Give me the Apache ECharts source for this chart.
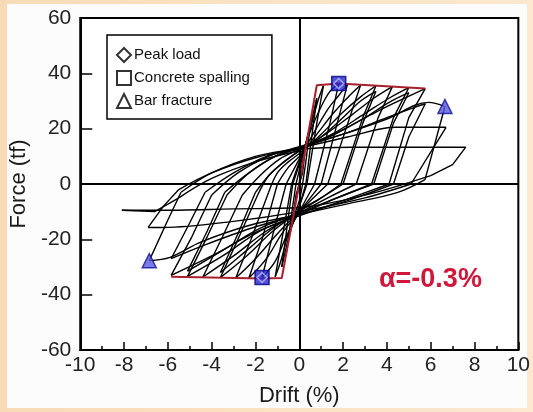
<!DOCTYPE html>
<html><head><meta charset="utf-8">
<script src="https://cdn.jsdelivr.net/npm/echarts@6/dist/echarts.min.js"></script>
<style>html,body{margin:0;padding:0;}#c{width:533px;height:412px;}</style>
</head><body><div id="c"></div>
<script>
// ---- data: drift (%), force (tf) ----
const xTicks = [-10,-8,-6,-4,-2,0,2,4,6,8,10];
const yTicks = [-60,-40,-20,0,20,40,60];
const cyc1 = [[0,0],[0.1,5],[0.25,11],[0.15,4],[0,0],[-0.1,-4],[-0.25,-10],[-0.15,-4],[0,0]];
const cyc2 = [[0,0],[0.2,10],[0.5,21],[0.3,8],[0.15,0],[0,-6],[-0.25,-12],[-0.5,-20],[-0.3,-8],[-0.15,0],[0,5]];
const cyc3 = [[0,5],[0.4,18],[0.8,31],[0.55,16],[0.3,0],[0,-8],[-0.4,-17],[-0.8,-30],[-0.55,-15],[-0.3,0],[0,7]];
const cyc4 = [[0,7],[0.5,20],[0.85,30],[1.1,35.5],[0.8,22],[0.35,0],[0,-8],[-0.5,-18],[-0.85,-28],[-1.1,-33.5],[-0.75,-18],[-0.35,0],[0,8]];
const cyc5 = [[0,8],[0.5,19],[1.0,28],[1.4,33.5],[1.8,36.3],[1.4,22],[0.7,0],[0,-10],[-0.6,-19],[-1.1,-28],[-1.7,-33.8],[-1.2,-18],[-0.6,0],[0,9]];
const cyc6 = [[0,9],[0.7,19],[1.3,27],[1.8,32],[2.2,36],[1.8,24],[1.0,0],[0,-10],[-0.8,-18],[-1.5,-27],[-2.3,-34],[-1.7,-20],[-1.0,0],[-0.5,6],[0,10]];
const cyc7 = [[0,10],[0.8,18],[1.6,26],[2.3,32],[2.8,35.8],[2.3,24],[1.3,0],[0,-10],[-1.0,-18],[-2.0,-27],[-2.9,-34],[-2.2,-20],[-1.4,-3],[-1.0,4],[-0.5,8],[0,11]];
const cyc8 = [[0,11],[1,18],[2,26],[2.8,31.5],[3.5,35.5],[2.9,24],[1.9,0],[1.0,-5],[0,-10],[-1.2,-17],[-2.4,-26],[-3.6,-33.8],[-2.8,-20],[-1.9,-4],[-1.4,3],[-0.7,8],[0,12]];
const cyc8b = [[0,12],[1,17],[2,24],[2.8,30],[3.5,33.5],[2.9,22],[2.0,0],[1.0,-5],[0,-9.5],[-1.2,-16],[-2.4,-24],[-3.6,-32],[-2.8,-18],[-2.0,-3],[-1.4,3],[-0.7,8],[0,12]];
const cyc9 = [[0,12],[1.2,18],[2.4,25],[3.4,31],[4.25,35.2],[3.6,24],[2.6,0],[1.3,-5],[0,-10.5],[-1.5,-17],[-3,-26],[-4.4,-33.6],[-3.5,-19],[-2.6,-4],[-1.8,3],[-0.9,9],[0,12.5]];
const cyc10 = [[0,12.5],[1.5,18],[3,25.5],[4.1,31],[5.0,34.8],[4.3,24],[3.3,0],[1.6,-5.5],[0,-11],[-1.8,-17],[-3.5,-26],[-5.1,-33.4],[-4.2,-19],[-3.3,-4],[-2.3,4],[-1.1,10],[0,13]];
const cyc10b = [[0,13],[1.5,17.5],[3,24],[4.1,29.5],[5.0,33],[4.3,22],[3.4,0],[1.7,-5],[0,-10.5],[-1.8,-16],[-3.5,-24],[-5.1,-31.5],[-4.2,-17],[-3.4,-3],[-2.3,4],[-1.1,10],[0,13]];
const cyc11 = [[0,13],[1.7,18.5],[3.5,26],[4.8,31],[5.75,34.5],[5.0,24],[4.1,0],[2,-6],[0,-11.5],[-2,-17.5],[-4,-26],[-5.85,-33],[-4.9,-19],[-4.0,-4],[-2.8,4],[-1.4,10],[0,13.5]];
const cyc12 = [[0,13.5],[2,18],[4,24],[5.2,27.5],[5.75,29],[5.0,17],[4.3,0],[2.2,-6],[0,-11],[-2.2,-16],[-4.3,-22],[-5.85,-27],[-5.0,-14],[-4.3,-3],[-3,4],[-1.5,10],[0,13]];
const cyc13 = [[0,13],[2,18],[4,23.5],[5.9,29.5],[6.65,28],[5.74,1.6],[4.5,-3],[2.3,-7],[0,-11],[-2.3,-15],[-4.5,-21],[-5.9,-26.5],[-6.85,-27.7],[-6,-13],[-5.4,-3],[-4,4],[-2,10],[0,13]];
const cyc14 = [[0,13],[2.2,17],[4.4,20.5],[6.7,20.5],[5.1,0],[3,-5],[0,-10],[-3,-13.5],[-6.2,-15.7],[-6.9,-15.7],[-6.2,-8],[-5.5,-2],[-4,4],[-2,9.5],[0,12.5]];
const cyc15 = [[0,12.5],[2.4,13.3],[4.8,13.3],[7.6,13.3],[7,7],[6,3],[5,0.5],[3,-4],[0,-8.5],[-3,-9],[-6.6,-9.5],[-8.1,-9.5],[-6.6,-10],[-5.5,-5],[-4,2],[-2,8],[0,12]];
const envelopePos = [[0,0],[0.8,35.7],[1.8,36.3],[5.75,34.5]];
const envelopeNeg = [[0,0],[-0.8,-34],[-1.7,-34.2],[-5.85,-33.5]];
const peakLoad = [[1.8,36.3],[-1.7,-33.8]];
const concreteSpalling = [[1.8,36.3],[-1.7,-33.8]];
const barFracture = [[6.65,28],[-6.85,-27.7]];
const legendNames = ['Peak load','Concrete spalling','Bar fracture'];
const noteText = 'α=-0.3%';
const xName = 'Drift (%)';
const yName = 'Force (tf)';

const cycles = [cyc1,cyc2,cyc3,cyc4,cyc5,cyc6,cyc7,cyc8,cyc8b,cyc9,cyc10,cyc10b,cyc11,cyc12,cyc13,cyc14,cyc15];

// split the recorded path into straight unloading parts and curved reloading parts
const path = [];
[].concat(...cycles).forEach(p => {
  const q = path[path.length-1];
  if (!q || q[0] !== p[0] || q[1] !== p[1]) path.push(p);
});
const ext = [0];
for (let i = 1; i < path.length-1; i++) {
  if ((path[i][0]-path[i-1][0]) * (path[i+1][0]-path[i][0]) < 0) ext.push(i);
}
ext.push(path.length-1);
const straightParts = [], curvedParts = [];
for (let s = 0; s < ext.length-1; s++) {
  const seg = path.slice(ext[s], ext[s+1]+1);
  if (s === 0) { curvedParts.push(seg); continue; }
  const y0 = seg[0][1];
  let end = seg.length-1;
  for (let j = 1; j < seg.length; j++) {
    if (seg[j][1] === 0) { end = j; break; }
    if (seg[j][1]*y0 < 0) { end = Math.max(1, j-1); break; }
  }
  straightParts.push(seg.slice(0, end+1));
  if (end < seg.length-1) curvedParts.push(seg.slice(end));
}

const FONT = '"Liberation Sans", Arial, sans-serif';
const chart = echarts.init(document.getElementById('c'), null, {renderer:'canvas'});
const hollow = {color:'#ffffff', borderColor:'#000', borderWidth:2};
const loopLine = {color:'#000', width:1.4};
const series = [];
straightParts.forEach(d => series.push({type:'line', data:d, showSymbol:false, symbol:'none', z:3, silent:true, lineStyle:loopLine}));
curvedParts.forEach(d => series.push({type:'line', data:d, showSymbol:false, symbol:'none', z:3, silent:true, smooth:0.35, lineStyle:loopLine}));
series.push(
  {type:'line', name:'axes0', data:[], markLine:{silent:true, symbol:'none', label:{show:false}, lineStyle:{color:'#000', width:2, type:'solid'}, data:[{xAxis:0},{yAxis:0}]}},
  {type:'line', name:'envPos', data:envelopePos, showSymbol:false, symbol:'none', z:4, lineStyle:{color:'#a8202c', width:2}},
  {type:'line', name:'envNeg', data:envelopeNeg, showSymbol:false, symbol:'none', z:4, lineStyle:{color:'#a8202c', width:2}},
  {type:'scatter', name:legendNames[1], data:concreteSpalling, symbol:'rect', symbolSize:14, z:6,
   itemStyle:{color:'#2828d0', borderColor:'#000080', borderWidth:1.5}},
  {type:'scatter', name:legendNames[0], data:peakLoad, symbol:'diamond', symbolSize:10, z:7,
   itemStyle:{color:'rgba(0,0,0,0)', borderColor:'#b8b8ff', borderWidth:1.5}},
  {type:'scatter', name:legendNames[2], data:barFracture, symbol:'triangle', symbolSize:14, z:6,
   itemStyle:{color:'#5a5ae0', borderColor:'#10109a', borderWidth:1.5}}
);

chart.setOption({
  animation:false,
  backgroundColor:{type:'linear',x:0,y:0,x2:1,y2:0,colorStops:[{offset:0,color:'#f8dbb6'},{offset:1,color:'#fce8cf'}]},
  graphic:[
    {type:'rect', z:-10, shape:{x:7,y:4,width:520,height:404}, style:{fill:'#fcfcfc'}},
    {type:'text', left:379, top:266, z:100, style:{text:noteText, font:'bold 27px '+FONT, fill:'#d0183a'}}
  ],
  grid:{left:78, right:12, top:18, bottom:60, show:true, borderColor:'#000', borderWidth:2, backgroundColor:'#ffffff'},
  legend:{
    orient:'vertical', left:107, top:35, padding:[12,22,10,9], itemGap:7,
    borderColor:'#000', borderWidth:1.5, backgroundColor:'#fff',
    itemWidth:14, itemHeight:14,
    textStyle:{fontFamily:FONT, fontSize:15, color:'#111', padding:[0,0,0,-2]},
    data:[
      {name:legendNames[0], icon:'diamond', itemStyle:hollow},
      {name:legendNames[1], icon:'rect', itemStyle:hollow},
      {name:legendNames[2], icon:'triangle', itemStyle:hollow}
    ]
  },
  xAxis:{
    type:'value', min:xTicks[0], max:xTicks[xTicks.length-1], interval:2,
    name:xName, nameLocation:'middle', nameGap:35,
    nameTextStyle:{fontFamily:FONT, fontSize:22, color:'#1a1a1a'},
    axisLine:{onZero:false, lineStyle:{color:'#000', width:2}},
    axisTick:{inside:true, length:8, lineStyle:{color:'#000', width:1.5}},
    minorTick:{show:true, splitNumber:2, length:4, lineStyle:{color:'#000', width:1.5}},
    axisLabel:{fontFamily:FONT, fontSize:21, color:'#222', margin:5},
    splitLine:{show:false}
  },
  yAxis:{
    type:'value', min:yTicks[0], max:yTicks[yTicks.length-1], interval:20,
    name:yName, nameLocation:'middle', nameGap:48,
    nameTextStyle:{fontFamily:FONT, fontSize:22, color:'#1a1a1a'},
    axisLine:{onZero:false, lineStyle:{color:'#000', width:2}},
    axisTick:{inside:true, length:12, lineStyle:{color:'#000', width:1.5}},
    axisLabel:{fontFamily:FONT, fontSize:21, color:'#222', margin:9},
    splitLine:{show:false}
  },
  series: series
});
</script></body></html>
